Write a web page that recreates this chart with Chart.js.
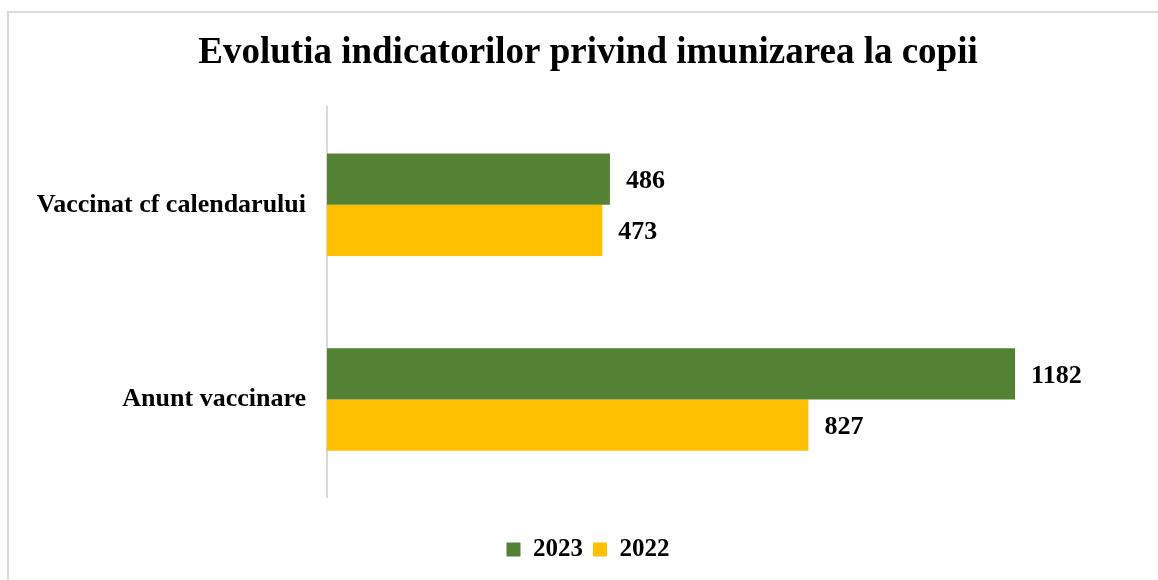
<!DOCTYPE html>
<html>
<head>
<meta charset="utf-8">
<script src="https://cdn.jsdelivr.net/npm/chart.js@4/dist/chart.umd.min.js"></script>
<style>
    body { margin: 0; background: #fff; }
    #wrap { position: relative; width: 1158px; height: 580px; overflow: hidden; }
    #frame { position: absolute; left: 7px; top: 11px; width: 1200px; height: 620px; border: 2px solid #d9d9d9; }
    #grafico { position: absolute; left: 0; top: 0; }
</style>
</head>
<body>
<div id="wrap">
    <div id="frame"></div>
    <canvas id="grafico" width="1158" height="580"></canvas>
</div>
<script>
const categorii = ['Vaccinat cf calendarului', 'Anunt vaccinare'];
const ani = ['2023', '2022'];
const valori2023 = [486, 1182];
const valori2022 = [473, 827];

const fonte = '"Liberation Serif", "Times New Roman", serif';

// scrie valoarea langa fiecare bara
const etichete = {
    id: 'etichete',
    afterDatasetsDraw(chart) {
        const ctx = chart.ctx;
        ctx.save();
        ctx.font = 'bold 26px ' + fonte;
        ctx.fillStyle = '#000';
        ctx.textAlign = 'left';
        ctx.textBaseline = 'middle';
        chart.data.datasets.forEach(function (ds, i) {
            chart.getDatasetMeta(i).data.forEach(function (bar, j) {
                ctx.fillText(ds.data[j], bar.x + 16, bar.y + 2);
            });
        });
        ctx.restore();
    }
};

const ctx = document.getElementById('grafico');
const grafico = new Chart(ctx, {
    type: 'bar',
    data: {
        labels: categorii,
        datasets: [{
            label: ani[0],
            data: valori2023,
            backgroundColor: '#548235'
        }, {
            label: ani[1],
            data: valori2022,
            backgroundColor: '#FFC000'
        }]
    },
    options: {
        indexAxis: 'y',
        responsive: false,
        animation: false,
        categoryPercentage: 0.526,
        barPercentage: 1,
        layout: {
            padding: { left: 34, right: 16, top: 0, bottom: 8 }
        },
        scales: {
            x: {
                min: 0,
                max: 1400,
                ticks: { display: false },
                grid: { display: false },
                border: { display: false },
                afterFit(scale) { scale.height = 30; }
            },
            y: {
                grid: { display: false },
                border: { color: '#d9d9d9', width: 2 },
                ticks: {
                    color: '#000',
                    padding: 13,
                    font: { family: fonte, size: 26, weight: 'bold' }
                },
                afterFit(scale) { scale.width = 293; }
            }
        },
        plugins: {
            title: {
                display: true,
                text: 'Evolutia indicatorilor privind imunizarea la copii',
                color: '#000',
                font: { family: fonte, size: 37, weight: 'bold' },
                padding: { top: 31, bottom: 32 }
            },
            legend: {
                position: 'bottom',
                labels: {
                    color: '#000',
                    boxWidth: 14,
                    boxHeight: 14,
                    padding: 10,
                    font: { family: fonte, size: 25, weight: 'bold' }
                }
            },
            tooltip: { enabled: false }
        }
    },
    plugins: [etichete]
});
</script>
</body>
</html>
